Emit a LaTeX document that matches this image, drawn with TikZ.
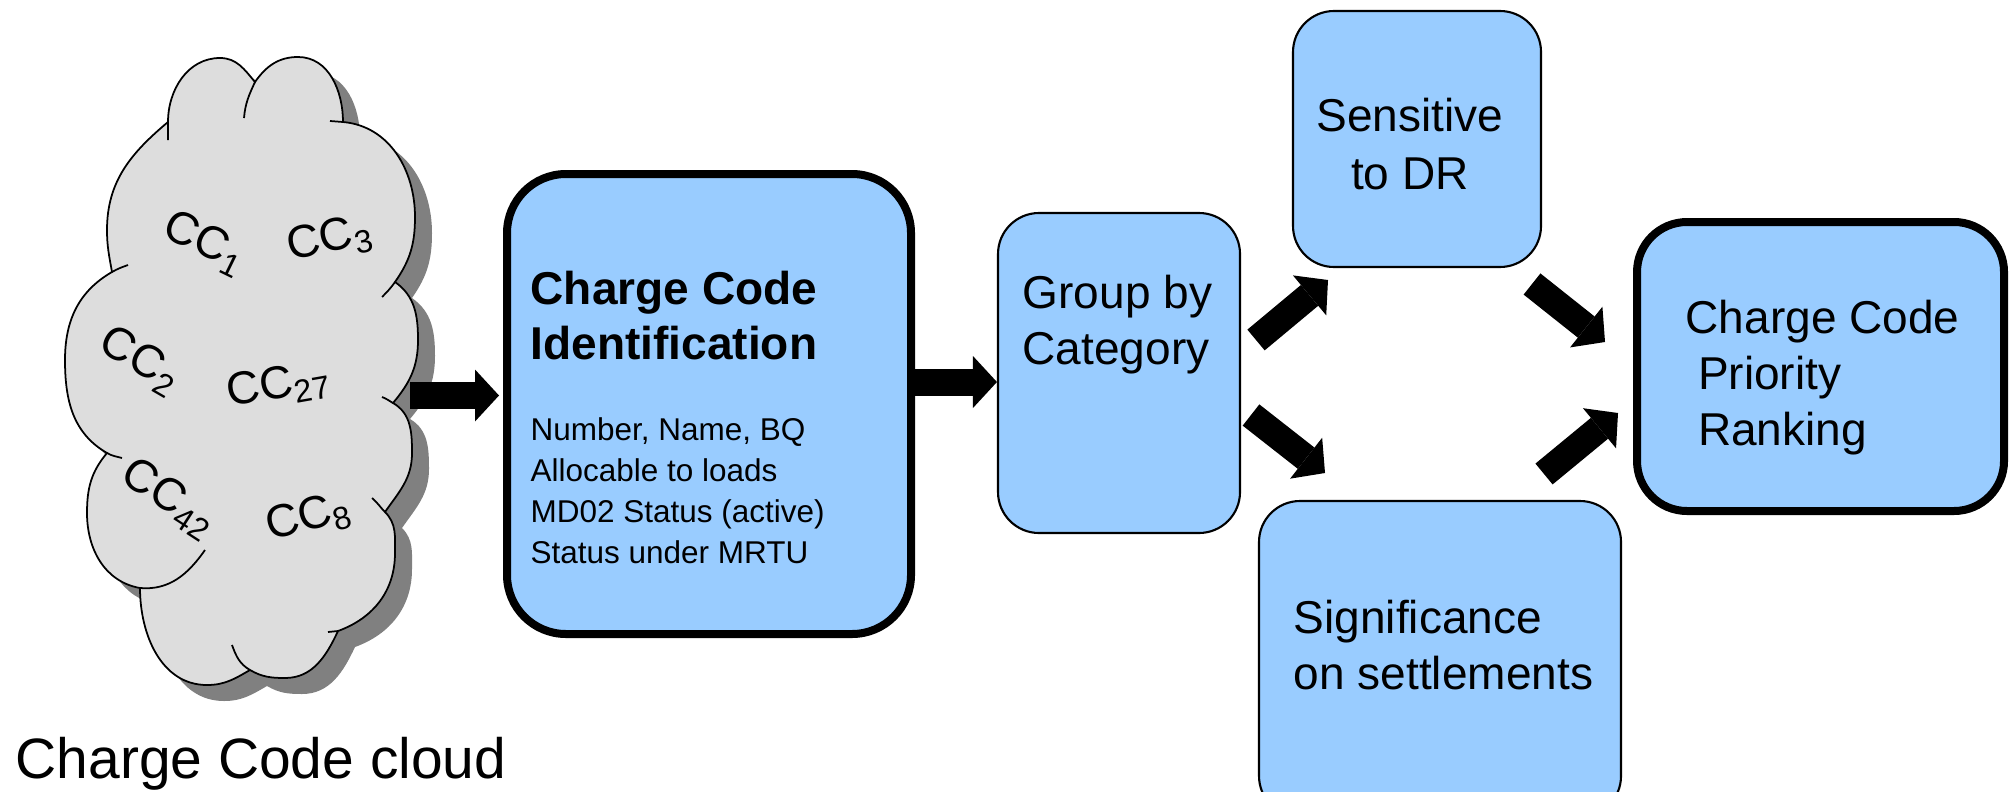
\documentclass[tikz,border=0pt]{standalone}
\usepackage{fontspec}
\setmainfont{Liberation Sans}
\usetikzlibrary{arrows.meta}
\definecolor{boxblue}{HTML}{99CCFF}
\definecolor{cloudgray}{HTML}{DDDDDD}
\definecolor{shadowgray}{HTML}{808080}
\begin{document}
\begin{tikzpicture}
	\tikzset{box/.style = {shape=rectangle,draw,fill=boxblue,line width=0.6pt,rounded corners=0.41cm}}
	\tikzset{bigbox/.style = {box,line width=0.08cm}}
	\tikzset{boxtext/.style = {inner sep=0pt,align=left,font=\fontsize{13.1pt}{16pt}\selectfont}}
	\tikzset{cc/.style = {inner sep=0pt,font=\fontsize{13.1pt}{16pt}\selectfont}}
	\tikzset{blockarrow/.style = {line width=0.27cm,-{Triangle[width=0.52cm,length=0.24cm,line width=0pt]}}}
	\useasboundingbox (0,0) rectangle (20.13,-7.91);
	% cloud
	\draw[line width=0.5pt,fill=cloudgray,preaction={fill=shadowgray,transform canvas={shift={(0.17,-0.16)}}}]
		(1.68,-1.22) to[out=90,in=180] (2.20,-0.58) to[out=0,in=130] (2.55,-0.82)
		to[out=55,in=180] (2.98,-0.57) to[out=0,in=90] (3.43,-1.22)
		to[out=-5,in=90] (4.15,-2.17) to[out=-90,in=55] (3.95,-2.82)
		to[out=-35,in=90] (4.18,-3.40) to[out=-90,in=50] (3.93,-4.03)
		to[out=-30,in=90] (4.12,-4.53) to[out=-90,in=55] (3.85,-5.12)
		to[out=-45,in=90] (3.95,-5.53) to[out=-90,in=20] (3.38,-6.31)
		to[out=-115,in=0] (2.85,-6.78) to[out=180,in=-30] (2.50,-6.70)
		to[out=-150,in=0] (2.07,-6.85) to[out=180,in=-90] (1.40,-5.88)
		to[out=170,in=-90] (0.87,-5.13) to[out=90,in=-130] (1.07,-4.53)
		to[out=150,in=-90] (0.65,-3.60) to[out=90,in=-150] (1.12,-2.72)
		to[out=100,in=-90] (1.07,-2.30) to[out=90,in=-140] (1.68,-1.22) -- cycle;
	\draw[line width=0.5pt]
		(1.68,-1.22) to[out=-90,in=90] (1.68,-1.40)
		(2.55,-0.82) to[out=-115,in=85] (2.44,-1.18)
		(3.43,-1.22) -- (3.30,-1.21)
		(3.95,-2.82) to[out=-125,in=45] (3.82,-2.97)
		(3.93,-4.03) to[out=150,in=-20] (3.82,-3.97)
		(3.85,-5.12) to[out=135,in=-40] (3.72,-4.98)
		(3.38,-6.31) -- (3.28,-6.32)
		(2.50,-6.70) to[out=150,in=-70] (2.32,-6.45)
		(1.40,-5.88) to[out=-5,in=-125] (2.05,-5.50)
		(1.07,-4.53) to[out=-30,in=165] (1.22,-4.58)
		(1.12,-2.72) to[out=30,in=-160] (1.28,-2.65);
	\node[cc,rotate=-26] (cc1) at (2.05,-2.43) {CC\textsubscript{1}};
	\node[cc,rotate=12] (cc3) at (3.30,-2.40) {CC\textsubscript{3}};
	\node[cc,rotate=-30] (cc2) at (1.40,-3.61) {CC\textsubscript{2}};
	\node[cc,rotate=10] (cc27) at (2.79,-3.86) {CC\textsubscript{27}};
	\node[cc,rotate=-33] (cc42) at (1.69,-4.99) {CC\textsubscript{42}};
	\node[cc,rotate=15] (cc8) at (3.09,-5.18) {CC\textsubscript{8}};
	\node[inner sep=0pt,anchor=base west,font=\fontsize{16.2pt}{19pt}\selectfont] (cloudlabel) at (0.15,-7.78) {Charge Code cloud};
	% boxes
	\node[bigbox,rounded corners=0.59cm,minimum width=4.04cm,minimum height=4.60cm] (ident) at (7.09,-4.04) {};
	\node[box,minimum width=2.42cm,minimum height=3.20cm] (group) at (11.19,-3.73) {};
	\node[box,minimum width=2.48cm,minimum height=2.56cm] (sens) at (14.17,-1.39) {};
	\node[box,minimum width=3.62cm,minimum height=3.16cm] (sig) at (14.40,-6.59) {};
	\node[bigbox,rounded corners=0.50cm,minimum width=3.67cm,minimum height=2.89cm] (prio) at (18.205,-3.665) {};
	% box texts
	\node[boxtext,anchor=north west,font=\bfseries\fontsize{13.1pt}{15.65pt}\selectfont] (identtitle) at (5.30,-2.70) {Charge Code\\Identification};
	\node[boxtext,anchor=north west,font=\fontsize{8.96pt}{11.67pt}\selectfont] (identbody) at (5.30,-4.17) {Number, Name, BQ\\Allocable to loads\\MD02 Status (active)\\Status under MRTU};
	\node[boxtext,anchor=north west] (grouptext) at (10.22,-2.74) {Group by\\Category};
	\node[boxtext,align=center,anchor=north,font=\fontsize{13.1pt}{16.5pt}\selectfont] (senstext) at (14.10,-0.97) {Sensitive\\to DR};
	\node[boxtext,anchor=north west] (sigtext) at (12.93,-5.99) {Significance\\on settlements};
	\node[boxtext,anchor=north west] (priotext) at (16.85,-2.99) {Charge Code\\\hspace*{3.5pt}Priority\\\hspace*{3.5pt}Ranking};
	% arrows
	\coordinate (a1) at (4.10,-3.955);
	\coordinate (a2) at (9.15,-3.82);
	\coordinate (g2s) at (12.56,-3.40);
	\coordinate (s2g) at (13.28,-2.80);
	\coordinate (g2i) at (12.51,-4.15);
	\coordinate (i2g) at (13.25,-4.73);
	\coordinate (s2p) at (15.32,-2.84);
	\coordinate (p2s) at (16.05,-3.42);
	\coordinate (i2p) at (15.44,-4.74);
	\coordinate (p2i) at (16.18,-4.13);
	\draw[blockarrow,shorten >=0.04cm] (a1) -- (a1 -| ident.west);
	\draw[blockarrow] (a2) -- (a2 -| group.west);
	\draw[blockarrow] (g2s) -- (s2g);
	\draw[blockarrow] (g2i) -- (i2g);
	\draw[blockarrow] (s2p) -- (p2s);
	\draw[blockarrow] (i2p) -- (p2i);
\end{tikzpicture}
\end{document}
